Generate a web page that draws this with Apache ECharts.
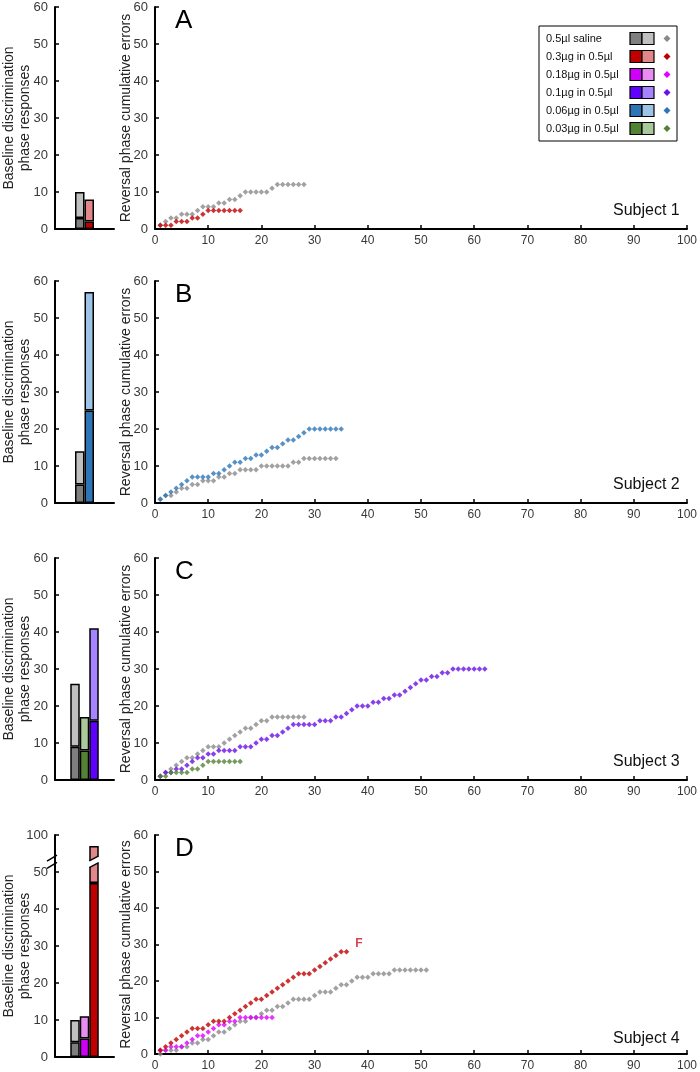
<!DOCTYPE html>
<html><head><meta charset="utf-8">
<script src="https://cdn.jsdelivr.net/npm/echarts@6.0.0/dist/echarts.min.js"></script>
<style>html,body{margin:0;padding:0;background:#fff}#c{width:700px;height:1072px}</style>
</head><body><div id="c"></div>
<script>
// ---------- DATA ----------
// cumulative errors, trial index = position + 1
const A_saline = [1,2,3,3,4,4,4,5,6,6,6,7,7,8,8,9,10,10,10,10,10,11,12,12,12,12,12,12];
const A_r03    = [1,1,1,2,2,2,3,3,4,5,5,5,5,5,5,5];
const B_saline = [1,2,2,3,4,4,5,5,6,6,6,7,7,8,8,9,9,9,9,10,10,10,10,10,10,11,11,12,12,12,12,12,12,12];
const B_b006   = [1,2,3,4,5,6,7,7,7,7,8,8,9,10,11,11,12,12,13,13,14,15,15,16,17,17,18,19,20,20,20,20,20,20,20];
const C_saline = [1,2,3,4,5,6,6,7,8,9,9,9,10,11,12,13,14,14,15,16,16,17,17,17,17,17,17,17];
const C_g003   = [1,1,2,2,2,2,3,3,4,5,5,5,5,5,5,5];
const C_p01    = [1,2,2,3,3,4,5,6,6,7,7,8,8,8,8,9,9,9,10,11,11,12,12,13,14,15,15,15,15,15,16,16,16,17,17,18,19,20,20,20,21,21,22,22,23,23,24,25,26,27,27,28,28,29,29,30,30,30,30,30,30,30];
const D_saline = [0,1,1,1,2,2,3,3,4,4,5,6,6,7,8,9,9,10,10,11,12,12,13,13,14,15,15,15,15,16,17,17,17,18,19,19,20,21,21,21,22,22,22,22,23,23,23,23,23,23,23];
const D_m018   = [1,1,2,2,2,3,4,5,5,6,7,8,8,9,9,10,10,10,10,10,10,10];
const D_r03    = [1,2,3,4,5,6,7,7,7,8,9,9,9,10,11,12,13,14,15,15,16,17,18,19,20,21,22,22,22,23,24,25,26,27,28,28];

// baseline discrimination bars: dark (bottom) part and total height
const barKeys_A = ['saline','r03'];          const barDark_A = [3, 2];        const barTotal_A = [10, 8];
const barKeys_B = ['saline','b006'];         const barDark_B = [5, 25];       const barTotal_B = [14, 57];
const barKeys_C = ['saline','g003','p01'];   const barDark_C = [9, 8, 16];    const barTotal_C = [26, 17, 41];
const barKeys_D = ['saline','m018','r03'];   const barDark_D = [4, 5, 47];    const barTotal_D = [10, 11, 97];

const yTicks = [0,10,20,30,40,50,60];
const xTicks = [0,10,20,30,40,50,60,70,80,90,100];
const legendLabels = ['0.5µl saline','0.3µg in 0.5µl','0.18µg in 0.5µl','0.1µg in 0.5µl','0.06µg in 0.5µl','0.03µg in 0.5µl'];
const legendKeys   = ['saline','r03','m018','p01','b006','g003'];
const panelLetters = ['A','B','C','D'];
const subjects     = ['Subject 1','Subject 2','Subject 3','Subject 4'];

// ---------- STYLE ----------
const COLORS = {
  saline:{dark:'#7f7f7f', light:'#c0c0c0', dot:'#8a8a8a'},
  r03:   {dark:'#c00000', light:'#e3868a', dot:'#c00000'},
  m018:  {dark:'#d000f8', light:'#e88cf2', dot:'#e000ff'},
  p01:   {dark:'#6000ff', light:'#a784ff', dot:'#6a10e8'},
  b006:  {dark:'#2e75b6', light:'#9dc3e6', dot:'#2e75b6'},
  g003:  {dark:'#548235', light:'#a9c99a', dot:'#548235'}
};
const FONT = '"Liberation Sans", Arial, sans-serif';
const TOPS = [7, 281, 558, 835];
const H = 222;

const panels = [
  {keys:barKeys_A, dark:barDark_A, total:barTotal_A, lines:[['saline',A_saline],['r03',A_r03]]},
  {keys:barKeys_B, dark:barDark_B, total:barTotal_B, lines:[['saline',B_saline],['b006',B_b006]]},
  {keys:barKeys_C, dark:barDark_C, total:barTotal_C, lines:[['saline',C_saline],['p01',C_p01],['g003',C_g003]]},
  {keys:barKeys_D, dark:barDark_D, total:barTotal_D, lines:[['saline',D_saline],['m018',D_m018],['r03',D_r03]]}
];
// broken axis on panel D bar chart: values above 50 are shown on compressed segment (100 -> 60)
function breakMap(v, p){ return (p === 3 && v > 50) ? 60 - (100 - v) : v; }

const grids = [], xAxes = [], yAxes = [], series = [];
const BW = 9.5;
panels.forEach((pn, p) => {
  const T = TOPS[p];
  grids.push({left:52, top:T, width:62, height:H});
  grids.push({left:155, top:T, width:533, height:H});
  const yBase = {
    type:'value', min:yTicks[0], max:yTicks[yTicks.length-1], interval:10,
    axisLine:{show:true, onZero:false, lineStyle:{color:'#000', width:2}},
    axisTick:{show:true, inside:true, length:4, lineStyle:{color:'#000', width:1.5}},
    splitLine:{show:false},
    axisLabel:{color:'#383838', fontSize:13, fontFamily:FONT, margin:7},
    nameLocation:'middle', nameRotate:90, nameMoveOverlap:false,
    nameTextStyle:{color:'#222', fontSize:14, fontFamily:FONT, lineHeight:16}
  };
  xAxes.push({gridIndex:2*p, type:'category', data:[''], boundaryGap:true,
    axisLine:{lineStyle:{color:'#000', width:2}}, axisTick:{show:false}, axisLabel:{show:false}});
  yAxes.push(Object.assign({}, yBase, {gridIndex:2*p,
    name:'Baseline discrimination\nphase responses', nameGap:22,
    axisLabel:Object.assign({}, yBase.axisLabel, {formatter: v => (p===3 && v===60) ? '100' : String(v)})}));
  xAxes.push({gridIndex:2*p+1, type:'value', min:xTicks[0], max:xTicks[xTicks.length-1], interval:10,
    axisLine:{onZero:false, lineStyle:{color:'#000', width:2}},
    axisTick:{show:true, inside:true, length:4, lineStyle:{color:'#000', width:1.5}},
    splitLine:{show:false},
    axisLabel:{color:'#383838', fontSize:12, fontFamily:FONT, margin:6}});
  yAxes.push(Object.assign({}, yBase, {gridIndex:2*p+1, name:'Reversal phase cumulative errors', nameGap:21}));

  pn.keys.forEach((k, j) => {
    const c = COLORS[k];
    const darkV = pn.dark[j];
    const lightV = breakMap(pn.total[j], p) - darkV;
    const common = {type:'bar', xAxisIndex:2*p, yAxisIndex:2*p, stack:'p'+p+'b'+j, barWidth:BW, barGap:'0%', silent:true};
    series.push(Object.assign({}, common, {data:[darkV], itemStyle:{color:c.dark, borderColor:'#000', borderWidth:1.5}}));
    series.push(Object.assign({}, common, {data:[lightV], itemStyle:{color:c.light, borderColor:'#000', borderWidth:1.5}}));
  });
  pn.lines.forEach(([k, arr]) => {
    const data = arr.map((v, i) => [i + 1, v]);
    if (p === 3 && k === 'r03') {
      const last = data.length - 1;
      data[last] = {value:data[last], label:{show:true, formatter:'F', position:'right', offset:[1,-8],
        color:'#d01020', fontWeight:'bold', fontSize:12, fontFamily:FONT}};
    }
    series.push({type:'scatter', xAxisIndex:2*p+1, yAxisIndex:2*p+1, data, symbol:'diamond',
      symbolSize:5.5, itemStyle:{color:COLORS[k].dot}, silent:true});
  });
});

const chart = echarts.init(document.getElementById('c'), null, {renderer:'canvas'});
chart.setOption({animation:false, backgroundColor:'#fff', grid:grids, xAxis:xAxes, yAxis:yAxes, series});

// ---------- GRAPHICS ----------
const g = [];
panelLetters.forEach((L, p) => {
  g.push({type:'text', left:175, top:TOPS[p] + 1, style:{text:L, fontSize:26, fontFamily:FONT, fill:'#000'}});
  g.push({type:'text', left:613, top:TOPS[p] + H - 26, style:{text:subjects[p], fontSize:16, fontFamily:FONT, fill:'#111'}});
});
// legend
const LX = 539, LY = 26, RH = 18;
g.push({type:'rect', shape:{x:LX, y:LY, width:138, height:115}, style:{fill:'#fff', stroke:'#000', lineWidth:1}});
legendLabels.forEach((t, i) => {
  const cy = LY + 12.5 + i * RH;
  const c = COLORS[legendKeys[i]];
  g.push({type:'text', x:LX + 7, y:cy, style:{text:t, fontSize:11, fontFamily:FONT, fill:'#111', textVerticalAlign:'middle'}});
  g.push({type:'rect', shape:{x:LX + 91, y:cy - 6, width:12, height:12}, style:{fill:c.dark, stroke:'#000', lineWidth:1.2}});
  g.push({type:'rect', shape:{x:LX + 103, y:cy - 6, width:12, height:12}, style:{fill:c.light, stroke:'#000', lineWidth:1.2}});
  g.push({type:'polygon', shape:{points:[[LX+128, cy-3.5],[LX+131.5, cy],[LX+128, cy+3.5],[LX+124.5, cy]]}, style:{fill:c.dot}});
});
// axis break on panel D bar axis
const axX = chart.convertToPixel({xAxisIndex:6}, 0);
const yLo = chart.convertToPixel({yAxisIndex:6}, 51.5);
const yHi = chart.convertToPixel({yAxisIndex:6}, 54);
const axisX = 52;
g.push({type:'rect', shape:{x:axisX - 2, y:yHi + 2, width:4, height:yLo - yHi - 3}, style:{fill:'#fff'}, z:100});
g.push({type:'line', shape:{x1:axisX - 5, y1:yLo + 2, x2:axisX + 5, y2:yLo - 4}, style:{stroke:'#000', lineWidth:1.5}, z:101});
g.push({type:'line', shape:{x1:axisX - 5, y1:yHi + 4, x2:axisX + 5, y2:yHi - 2}, style:{stroke:'#000', lineWidth:1.5}, z:101});
// break across the tall red bar (third bar in panel D)
const bx0 = axX + BW / 2, bx1 = axX + 1.5 * BW;
const yb1 = chart.convertToPixel({yAxisIndex:6}, 51.2);
const yb2 = chart.convertToPixel({yAxisIndex:6}, 53.0);
g.push({type:'polygon', shape:{points:[[bx0-1.5, yb1+1], [bx1+1.5, yb1-5], [bx1+1.5, yb2-6], [bx0-1.5, yb2]]}, style:{fill:'#fff'}, z:100});
g.push({type:'line', shape:{x1:bx0, y1:yb1, x2:bx1, y2:yb1-5}, style:{stroke:'#000', lineWidth:1.5}, z:101});
g.push({type:'line', shape:{x1:bx0, y1:yb2, x2:bx1, y2:yb2-5}, style:{stroke:'#000', lineWidth:1.5}, z:101});
chart.setOption({graphic:g});
</script></body></html>
